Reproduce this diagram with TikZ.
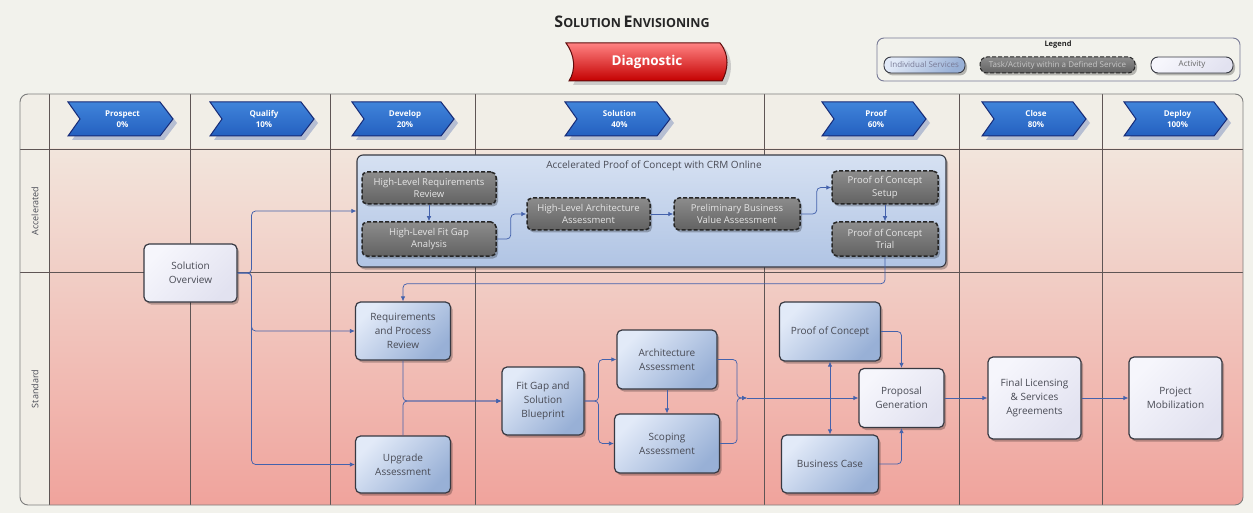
\documentclass[tikz,border=0pt]{standalone}
\usepackage{fontspec}
\setmainfont{Open Sans}
\usetikzlibrary{arrows.meta,shadows}
\definecolor{bg}{RGB}{242,242,236}
\definecolor{hdr}{RGB}{241,238,231}
\definecolor{laneTop}{RGB}{242,229,220}
\definecolor{laneMid}{RGB}{243,205,195}
\definecolor{laneBot}{RGB}{240,163,156}
\definecolor{gridC}{RGB}{95,85,85}
\definecolor{frameC}{RGB}{125,125,125}
\definecolor{nodeBorder}{RGB}{55,57,66}
\definecolor{txt}{RGB}{72,74,84}
\definecolor{svcA}{RGB}{226,234,248}
\definecolor{svcB}{RGB}{152,176,214}
\definecolor{actA}{RGB}{246,246,252}
\definecolor{actB}{RGB}{226,226,240}
\definecolor{taskA}{RGB}{140,140,140}
\definecolor{taskB}{RGB}{98,98,98}
\definecolor{accA}{RGB}{214,225,242}
\definecolor{accB}{RGB}{176,196,228}
\definecolor{lineC}{RGB}{68,98,172}
\definecolor{chevA}{RGB}{64,132,218}
\definecolor{chevB}{RGB}{36,96,192}
\definecolor{chevD}{RGB}{22,42,118}
\definecolor{chevS}{RGB}{182,190,210}
\definecolor{redA}{RGB}{255,130,130}
\definecolor{redB}{RGB}{236,24,24}
\definecolor{redC}{RGB}{196,0,0}
\definecolor{redD}{RGB}{95,10,10}
\definecolor{legC}{RGB}{120,122,150}
\tikzset{
  shad/.style={drop shadow={shadow xshift=2pt,shadow yshift=-2.5pt,fill=black,opacity=0.25}},
  box/.style={draw=nodeBorder,line width=1.2pt,rounded corners=5pt,align=center,text=txt,
    font=\fontsize{10}{14}\selectfont,inner sep=2pt,shad},
  svc/.style={box,top color=svcA,bottom color=svcB,shading angle=45},
  act/.style={box,top color=actA,bottom color=actB,shading angle=45},
  task/.style={draw=black!85,line width=1.5pt,dash pattern=on 4pt off 2pt,rounded corners=5pt,
    top color=taskA,bottom color=taskB,text=white!90!black,align=center,
    font=\fontsize{9.5}{12.5}\selectfont,inner sep=2pt,shad},
  accbox/.style={draw=nodeBorder,line width=1.1pt,rounded corners=6pt,top color=accA,bottom color=accB,shad},
  conn/.style={draw=lineC,line width=0.75pt,rounded corners=4pt,-{Latex[length=5pt,width=4.5pt]}},
  gridline/.style={draw=gridC,line width=0.7pt},
  chevshape/.style={draw=chevD,line width=1pt,top color=chevA,bottom color=chevB},
  chevtext/.style={text=white,align=center,font=\bfseries\fontsize{8}{11}\selectfont},
  lanelabel/.style={rotate=90,text=txt,font=\fontsize{9}{11}\selectfont},
  legitem/.style={rounded corners=7pt,minimum height=16pt,font=\fontsize{8}{9}\selectfont},
}
\newcommand{\mychev}[5]{%
  \fill[chevS] (#2+4,106) -- (#3-9,106) -- (#3+4,123) -- (#3-9,140) -- (#2+4,140) -- (#2+16,123) -- cycle;
  \draw[chevshape] (#2,102) -- (#3-13,102) -- (#3,119) -- (#3-13,136) -- (#2,136) -- (#2+12,119) -- cycle;
  \node[chevtext] (#1) at ({(#2+#3)/2+2},119) {#4\\#5};
}
\begin{document}
\begin{tikzpicture}[x=1pt,y=-1pt]
\useasboundingbox (0,0) rectangle (1253,513);
\fill[bg] (0,0) rectangle (1253,513);

% title
\node[text=black!85] (title) at (632,22) {\bfseries{\fontsize{16}{18}\selectfont S}{\fontsize{12.5}{15}\selectfont OLUTION} {\fontsize{16}{18}\selectfont E}{\fontsize{12.5}{15}\selectfont NVISIONING}};

% diagnostic banner
\fill[black!30,opacity=0.6] (570,47) -- (724,47) .. controls (734,59) and (732,74) .. (726,85) -- (573,85) .. controls (580,74) and (579,59) .. (570,47) -- cycle;
\shade[top color=redA,middle color=redB,bottom color=redC,draw=redD,line width=1pt]
  (566,43) -- (720,43) .. controls (730,55) and (728,70) .. (722,81) -- (569,81) .. controls (576,70) and (575,55) .. (566,43) -- cycle;
\node[text=white,font=\bfseries\fontsize{13.5}{16}\selectfont] (diag) at (647,62) {Diagnostic};

% legend
\node[draw=legC,line width=0.9pt,rounded corners=7pt,fill=bg,minimum width=363pt,minimum height=43pt] (legend) at (1058.5,59.5) {};
\node[font=\bfseries\fontsize{7.5}{8}\selectfont,text=black!85] (legtitle) at (1058,45) {Legend};
\node[svc,legitem,line width=0.9pt,minimum width=81pt,text=legC] (lg1) at (924.5,65) {Individual Services};
\node[task,legitem,line width=1pt,minimum width=155pt,text=black!22] (lg2) at (1057.5,65) {Task/Activity within a Defined Service};
\node[act,legitem,line width=0.9pt,minimum width=82pt,text=black!60] (lg3) at (1192,65) {Activity};

% swimlane background
\begin{scope}
\clip[rounded corners=8pt] (20,94) rectangle (1243,505);
\fill[hdr] (20,94) rectangle (1243,505);
\shade[top color=laneTop,middle color=laneMid,bottom color=laneBot] (49,149) rectangle (1243,505);
\end{scope}
\foreach \x in {49,190,330,475,764,959,1102} {\draw[gridline] (\x,94) -- (\x,505);}
\draw[gridline] (20,149) -- (1243,149);
\draw[gridline] (20,272) -- (1243,272);
\draw[draw=frameC,line width=0.9pt,rounded corners=8pt] (20,94) rectangle (1243,505);

\node[lanelabel] (lacc) at (35,211) {Accelerated};
\node[lanelabel] (lstd) at (35,389) {Standard};

% phase chevrons
\mychev{ph1}{68}{173}{Prospect}{0\%}
\mychev{ph2}{210}{314}{Qualify}{10\%}
\mychev{ph3}{352}{454}{Develop}{20\%}
\mychev{ph4}{565}{670}{Solution}{40\%}
\mychev{ph5}{822}{926}{Proof}{60\%}
\mychev{ph6}{982}{1086}{Close}{80\%}
\mychev{ph7}{1124}{1227}{Deploy}{100\%}

% accelerated box
\node[accbox,minimum width=589pt,minimum height=112pt] (acc) at (651.5,211) {};
\node[text=txt,font=\fontsize{10}{12}\selectfont] (acctitle) at (654,166) {Accelerated Proof of Concept with CRM Online};
\node[task,minimum width=134pt,minimum height=32pt] (hlr) at (429,188) {High-Level Requirements\\Review};
\node[task,minimum width=134pt,minimum height=34pt] (hlf) at (429,239) {High-Level Fit Gap\\Analysis};
\node[task,minimum width=123pt,minimum height=32pt] (hla) at (588.5,214) {High-Level Architecture\\Assessment};
\node[task,minimum width=126pt,minimum height=32pt] (pbv) at (737,214) {Preliminary Business\\Value Assessment};
\node[task,minimum width=106pt,minimum height=33pt] (pcs) at (885,187.5) {Proof of Concept\\Setup};
\node[task,minimum width=106pt,minimum height=34pt] (pct) at (885,239) {Proof of Concept\\Trial};

% standard nodes
\node[act,minimum width=93pt,minimum height=58pt] (ov) at (190.5,273) {Solution\\Overview};
\node[svc,minimum width=95pt,minimum height=58pt] (req) at (403,331) {Requirements\\and Process\\Review};
\node[svc,minimum width=95pt,minimum height=57pt] (upg) at (403,464.5) {Upgrade\\Assessment};
\node[svc,minimum width=82pt,minimum height=68pt] (fit) at (543,401) {Fit Gap and\\Solution\\Blueprint};
\node[svc,minimum width=100pt,minimum height=59pt] (arch) at (667,359.5) {Architecture\\Assessment};
\node[svc,minimum width=105pt,minimum height=59pt] (scop) at (667,443.5) {Scoping\\Assessment};
\node[svc,minimum width=101pt,minimum height=59pt] (poc) at (830,331.5) {Proof of Concept};
\node[svc,minimum width=97pt,minimum height=58pt] (bc) at (830,464) {Business Case};
\node[act,minimum width=85pt,minimum height=59pt] (prop) at (901.5,398) {Proposal\\Generation};
\node[act,minimum width=93pt,minimum height=82pt] (fin) at (1034.5,398) {Final Licensing\\\& Services\\Agreements};
\node[act,minimum width=93pt,minimum height=82pt] (pm) at (1175.5,398) {Project\\Mobilization};

\coordinate (jm) at (737,398);
\coordinate (j) at (747,398);
\coordinate (b) at (830,398);

% connectors
\draw[conn] (ov.east) -- ++(14,0) |- (acc.west);
\draw[conn] (ov.east) -- ++(14,0) |- (req.west);
\draw[conn] (ov.east) -- ++(14,0) |- (upg.west);
\draw[conn] (hlr.south) -- (hlf.north);
\draw[conn] (hlf.east) -- ++(14,0) |- (hla.west);
\draw[conn] (hla.east) -- (pbv.west);
\draw[conn] (pbv.east) -- ++(16,0) |- (pcs.west);
\draw[conn] (pcs.south) -- (pct.north);
\draw[conn] (pct.south) -- ++(0,27) -| (req.north);
\draw[conn] (req.south) |- (fit.west);
\draw[conn] (upg.north) |- (fit.west);
\draw[conn] (fit.east) -- ++(14,0) |- (arch.west);
\draw[conn] (fit.east) -- ++(14,0) |- (scop.west);
\draw[conn] (arch.south) -- (scop.north);
\draw[conn] (arch.east) -| (jm) -- (j);
\draw[conn] (scop.east) -| (jm) -- (j);
\draw[conn] (j) -- (prop.west);
\draw[conn] (b) -- (poc.south);
\draw[conn] (b) -- (bc.north);
\draw[conn] (poc.east) -| (prop.north);
\draw[conn] (bc.east) -| (prop.south);
\draw[conn] (prop.east) -- (fin.west);
\draw[conn] (fin.east) -- (pm.west);
\end{tikzpicture}
\end{document}
